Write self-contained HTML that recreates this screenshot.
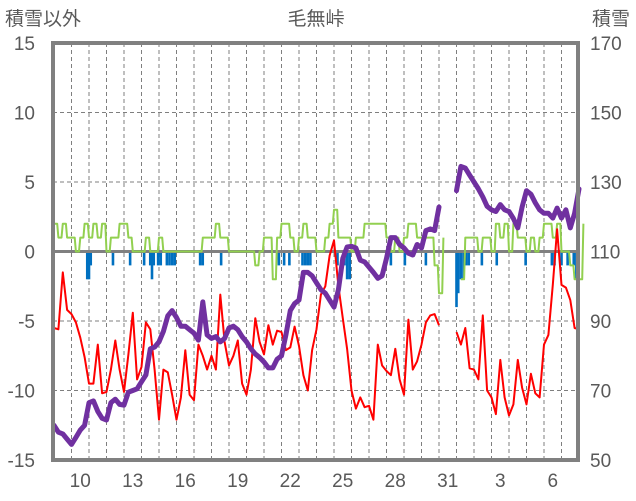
<!DOCTYPE html>
<html><head><meta charset="utf-8"><style>
body{margin:0;background:#fff;width:636px;height:501px;overflow:hidden}
svg{display:block;font-family:"Liberation Sans","Noto Sans CJK JP",sans-serif}
.t{fill:#595959;font-size:19px}
</style></head><body>
<svg id="c" width="636" height="501">
<text x="5" y="25" class="t">積雪以外</text>
<text x="316" y="25" class="t" text-anchor="middle">毛無峠</text>
<text x="630" y="25" class="t" text-anchor="end">積雪</text>
<g id="grid"></g>
<g id="marks"></g>
<g id="axes"></g>
</svg>
<script>
const xTickLabels=["10","13","16","19","22","25","28","31","3","6"];
const leftTicks=[15,10,5,0,-5,-10,-15];
const rightTicks=[170,150,130,110,90,70,50];
const N=null;
const tempVals=[-5.5,-5.6,-1.5,-4.2,-4.5,-5.1,-6.2,-7.6,-9.5,-9.5,-6.7,-10.2,-10.1,-8.5,-6.4,-8.5,-10.1,-7.4,-4.4,-9.2,-8.3,-5.1,-5.6,-8.5,-12.1,-8.5,-8.7,-10.3,-12.1,-10.5,-7.1,-10.3,-10.7,-6.7,-7.5,-8.5,-7.5,-8.5,-3.1,-6.5,-8.2,-7.5,-6.4,-9.5,-10.3,-8.5,-4.8,-6.5,-7.4,-5.3,-6.7,-5.7,-5.8,-7.1,-6.9,-5.4,-6.8,-8.9,-10,-7.1,-5.6,-3.1,-2.5,-0.3,0.8,-2.5,-4.8,-7,-10,-11.3,-10.5,-11.2,-11.1,-12.1,-6.7,-8.2,-8.6,-8.9,-7,-9.2,-10.3,-4.9,-8.5,-7.9,-6.7,-5.1,-4.6,-4.5,-5.3,N,N,N,-5.8,-6.7,-5.5,-8.4,-8.5,-9.2,-4.6,-10,-10.5,-11.7,-7.8,-10.5,-11.8,-11,-7.8,-9.8,-11,-8.8,-10.2,-10.5,-6.7,-6,-2.4,1.6,-2.4,-2.6,-3.5,-5.5,-5.6];
const snowVals=[60,58,57.5,56,54.5,56.5,58.6,60,66.5,67,64,62,61.5,66.5,67.5,66,65.8,69.5,70,70.5,72.5,74.5,82,82.5,84,87,91.5,93,91,88.5,88.5,87.5,86.5,84.5,95.5,86,85,85.5,84,85,88,88.5,87.5,85.5,84,82,80.5,79.5,78.2,76.5,76.5,79,80,86,93,95,96,104,104,103,101,99,98,96,94,99,108,111.3,111.5,111,107.5,107,105.5,104,102.3,103,108,114,114,112,111,109.5,109,112,111,116,116.5,116,122.8,N,N,N,127.5,134.5,134,132,130,128,125.7,123,122,121.5,123.5,122,121.5,119.5,116.8,122.8,127.5,126.5,124,122,121,121,119.6,122.5,119.6,122,116.8,121,128];
const otherVals=[2,1,2,1,1,0,1,2,1,2,1,2,0,1,1,2,2,1,0,0,0,1,0,0,1,0,0,0,0,0,0,0,0,0,1,1,1,2,1,1,0,0,0,0,0,0,-1,0,1,1,-2,1,2,2,1,0,1,2,1,1,0,0,1,2,3,1,1,1,0,1,1,2,2,2,2,2,1,0,1,0,1,2,2,1,1,1,1,-1,-3,1,N,N,N,-2,1,1,1,0,1,1,0,2,1,2,0,2,1,1,0,1,0,1,2,2,1,2,0,0,-1,-2,-2,2];
const precipDays=[1.9,2.0,2.1,3.37,4.35,5.15,5.5,5.6,5.7,5.95,6.1,6.45,6.6,6.75,6.9,8.35,8.5,9.55,12.85,13.15,13.45,14.2,14.35,14.5,14.65,16.2,16.6,16.75,16.9,19.25,20.05,21.25,23.0,23.1,23.25,23.4,23.55,23.7,24.45,25.3,26.95,28.45,28.6,29.0,29.35,29.7,29.85];
const precipVals=[-2,-2,-1,-1,-1,-1,-1,-2,-1,-1,-1,-1,-1,-1,-1,-1,-1,-1,-1,-1,-1,-1,-1,-1,-1,-1,-1,-2,-2,-1,-1,-1,-4,-3,-2,-2,-1,-1,-1,-1,-1,-1,-1,-1,-1,-1,-2];
const X0=54,DW=17.5,TOP=43,BOT=460,L=53,R=578;
const x=d=>X0+d*DW;
const yL=v=>BOT-(v+15)/30*(BOT-TOP);
const yR=v=>BOT-(v-50)/120*(BOT-TOP);
const NS="http://www.w3.org/2000/svg";
function mk(t,a,p){const e=document.createElementNS(NS,t);for(const k in a)e.setAttribute(k,a[k]);p.appendChild(e);return e;}
const grid=document.getElementById('grid'),marks=document.getElementById('marks'),axes=document.getElementById('axes');
for(let k=1;k<30;k++){const g=mk('line',{x1:x(k),x2:x(k),y1:TOP,y2:BOT,stroke:'#7f7f7f','stroke-width':1,'stroke-dasharray':'4 3'},grid);

}
leftTicks.forEach(v=>{if(v!==0&&v!==15&&v!==-15){const g=mk('line',{x1:L,x2:R,y1:yL(v),y2:yL(v),stroke:'#7f7f7f','stroke-width':1,'stroke-dasharray':'4 3'},grid);

}});
function path(vals,yf){let s='',pen=false;vals.forEach((v,i)=>{if(v===null){pen=false;return;}s+=(pen?'L':'M')+x(i/4).toFixed(1)+' '+yf(v).toFixed(1);pen=true;});return s;}
function stepPath(vals,yf){let s='',pen=false;vals.forEach((v,i)=>{if(v===null){pen=false;return;}const xx=x(i/4).toFixed(1),yy=yf(v).toFixed(1);if(pen){s+='L'+(x(i/4)-1).toFixed(1)+' '+s.__y+'L'+xx+' '+yy;}else{s+='M'+xx+' '+yy;}s.__y=yy;pen=true;prevY=yy;});return s;}
let prevY;
function stepPath2(vals,yf){let s='',pen=false,py=0;vals.forEach((v,i)=>{if(v===null){pen=false;return;}const xx=x(i/4),yy=yf(v);if(pen){s+='L'+(xx-1.2).toFixed(1)+' '+py.toFixed(1)+'L'+xx.toFixed(1)+' '+yy.toFixed(1);}else{s+='M'+xx.toFixed(1)+' '+yy.toFixed(1);}py=yy;pen=true;});return s;}
precipDays.forEach((d,i)=>{const v=precipVals[i];const b=mk('rect',{x:x(d)-1.3,y:yL(0),width:2.6,height:yL(v)-yL(0),fill:'#0070c0'},marks);

});
const zl=mk('line',{x1:L,x2:R,y1:yL(0),y2:yL(0),stroke:'#808080','stroke-width':3},marks);


const g1=mk('path',{d:stepPath2(otherVals,yL),fill:'none',stroke:'#92d050','stroke-width':2,'stroke-linejoin':'round'},marks);


const r1=mk('path',{d:path(tempVals,yL),fill:'none',stroke:'#ff0000','stroke-width':2,'stroke-linejoin':'round'},marks);


const p1=mk('path',{d:path(snowVals,yR),fill:'none',stroke:'#7030a0','stroke-width':5,'stroke-linejoin':'round','stroke-linecap':'round'},marks);


const fr=mk('rect',{x:L,y:TOP,width:R-L,height:BOT-TOP,fill:'none',stroke:'#808080','stroke-width':4},axes);


leftTicks.forEach(v=>{const t=mk('text',{x:35,y:yL(v)+7,'text-anchor':'end',class:'t'},axes);t.textContent=v;

});
rightTicks.forEach(v=>{const t=mk('text',{x:590,y:yR(v)+7,class:'t'},axes);t.textContent=v;

});
xTickLabels.forEach((s,i)=>{const t=mk('text',{x:x(1+3*i+0.5),y:487,'text-anchor':'middle',class:'t'},axes);t.textContent=s;

});
</script>
</body></html>
